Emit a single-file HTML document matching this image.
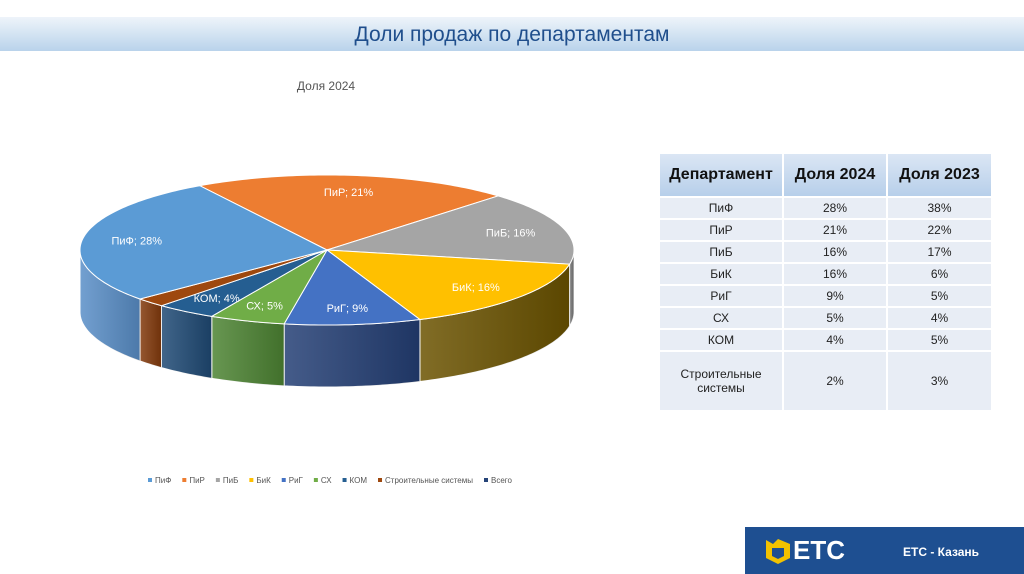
<!DOCTYPE html>
<html><head><meta charset="utf-8"><style>
body{margin:0;width:1024px;height:574px;background:#fff;position:relative;overflow:hidden;font-family:"Liberation Sans",sans-serif}
.band{position:absolute;left:0;top:17px;width:1024px;height:34px;background:linear-gradient(#eef4fa,#b9d3eb)}
.title{position:absolute;left:0;width:1024px;top:20px;text-align:center;font-size:21px;color:#1f4e8c;line-height:30px}
table{position:absolute;left:658px;top:152px;width:335px;border-collapse:collapse;font-size:12px;color:#222}
td,th{border:2px solid #fff;text-align:center;padding:0}
th{height:42px;font-size:16px;font-weight:bold;color:#111;background:linear-gradient(#dbe6f4,#b7cfea)}
td{background:#e8edf5;height:20px}
.foot{position:absolute;left:745px;top:527px;width:279px;height:47px;background:#1e4f91}
</style></head><body>
<div class="band"></div>
<div class="title">Доли продаж по департаментам</div>
<svg width="660" height="520" style="position:absolute;left:0;top:0">
<defs>
<linearGradient id="shade" x1="0" x2="1" y1="0" y2="0"><stop offset="0" stop-color="#fff" stop-opacity="0.15"/><stop offset="1" stop-color="#000" stop-opacity="0.15"/></linearGradient>
</defs>
<text x="326" y="90" text-anchor="middle" font-size="12" fill="#555">Доля 2024</text>
<g id="pie"></g>
<g id="legend"></g>
</svg>
<table>
<tr><th style="width:122px">Департамент</th><th style="width:102px">Доля 2024</th><th>Доля 2023</th></tr>
<tr><td>ПиФ</td><td>28%</td><td>38%</td></tr>
<tr><td>ПиР</td><td>21%</td><td>22%</td></tr>
<tr><td>ПиБ</td><td>16%</td><td>17%</td></tr>
<tr><td>БиК</td><td>16%</td><td>6%</td></tr>
<tr><td>РиГ</td><td>9%</td><td>5%</td></tr>
<tr><td>СХ</td><td>5%</td><td>4%</td></tr>
<tr><td>КОМ</td><td>4%</td><td>5%</td></tr>
<tr><td style="height:58px">Строительные<br>системы</td><td>2%</td><td>3%</td></tr>
</table>
<div class="foot">
<svg width="30" height="30" style="position:absolute;left:18px;top:9px"><polygon points="3,4 10,8 15,3 27,8 27,22 15,28 3,22" fill="#f2c200"/><polygon points="9,12 21,12 21,20 15,23 9,20" fill="#1e4f91"/></svg>
<div style="position:absolute;left:48px;top:8px;color:#fff;font-weight:bold;font-size:26px">ETC</div>
<div style="position:absolute;left:158px;top:18px;color:#fff;font-weight:bold;font-size:12px">ЕТС - Казань</div>
</div>
<script>
const cats=["ПиР","ПиБ","БиК","РиГ","СХ","КОМ","Строительные системы","ПиФ"];
const labels=["ПиР","ПиБ","БиК","РиГ","СХ","КОМ","","ПиФ"];
const values=[21,16,16,9,5,4,2,28];
const topCol=["#ed7d31","#a5a5a5","#ffc000","#4472c4","#70ad47","#255e91","#9e480e","#5b9bd5"];
const sideCol=["#a85a22","#777","#6b5300","#243f75","#4d8433","#1f4a75","#833a0c","#5a8fc8"];
const legendCats=["ПиФ","ПиР","ПиБ","БиК","РиГ","СХ","КОМ","Строительные системы","Всего"];
const legendCol=["#5b9bd5","#ed7d31","#a5a5a5","#ffc000","#4472c4","#70ad47","#255e91","#9e480e","#264478"];
const cx=327,cy=250,rx=247,ry=75,depth=62,start=-31;
const NS="http://www.w3.org/2000/svg";
const g=document.getElementById('pie');
const total=values.reduce((a,b)=>a+b,0);
function pt(a,dy){const r=a*Math.PI/180;return [cx+rx*Math.sin(r),cy-ry*Math.cos(r)+(dy||0)];}
function arc(a,b,dy){let s="";for(let t=a;t<=b;t+=1)s+=pt(t,dy).join(",")+" ";s+=pt(b,dy).join(",")+" ";return s;}
let a=start;const sl=[];
values.forEach((v,i)=>{const b=a+v/total*360;sl.push([a,b]);a=b;});
sl.forEach(([a,b],i)=>{
  const s=Math.max(a,90),e=Math.min(b,270);
  const s2=Math.max(a-360,90),e2=Math.min(b-360,270);
  [[s,e],[s2,e2]].forEach(([p,q])=>{if(q>p){
    const pts=arc(p,q,0)+arc(p,q,depth).trim().split(" ").reverse().join(" ");
    const pl=document.createElementNS(NS,'polygon');
    pl.setAttribute('points',pts);pl.setAttribute('fill',sideCol[i]);pl.setAttribute('stroke','#fff');pl.setAttribute('stroke-width','1');
    
    
    g.appendChild(pl);
    const sh=document.createElementNS(NS,'polygon');sh.setAttribute('points',pts);sh.setAttribute('fill','url(#shade)');
    
    
    g.appendChild(sh);}});
});
sl.forEach(([a,b],i)=>{
  const pl=document.createElementNS(NS,'polygon');
  pl.setAttribute('points',cx+","+cy+" "+arc(a,b,0));
  pl.setAttribute('fill',topCol[i]);pl.setAttribute('stroke','#fff');pl.setAttribute('stroke-width','1');
  
  
  g.appendChild(pl);
});
sl.forEach(([a,b],i)=>{
  if(!labels[i])return;
  const m=(a+b)/2,r=m*Math.PI/180;
  const x=cx+0.78*rx*Math.sin(r),y=cy-0.78*ry*Math.cos(r)+4;
  const t=document.createElementNS(NS,'text');
  t.setAttribute('x',x);t.setAttribute('y',y);t.setAttribute('text-anchor','middle');
  t.setAttribute('font-size','11');t.setAttribute('fill','#fff');
  t.textContent=labels[i]+"; "+values[i]+"%";
  
  
  g.appendChild(t);
});
const lg=document.getElementById('legend');
let lx=148;
legendCats.forEach((c,i)=>{
  const r=document.createElementNS(NS,'rect');r.setAttribute('x',lx);r.setAttribute('y',478);r.setAttribute('width',4);r.setAttribute('height',4);r.setAttribute('fill',legendCol[i]);
  
  
  lg.appendChild(r);
  const t=document.createElementNS(NS,'text');t.setAttribute('x',lx+7);t.setAttribute('y',483);t.setAttribute('font-size','8');t.setAttribute('fill','#555');t.textContent=c;
  
  
  lg.appendChild(t);
  lx+=7+t.getComputedTextLength()+11;
});
</script>
</body></html>
